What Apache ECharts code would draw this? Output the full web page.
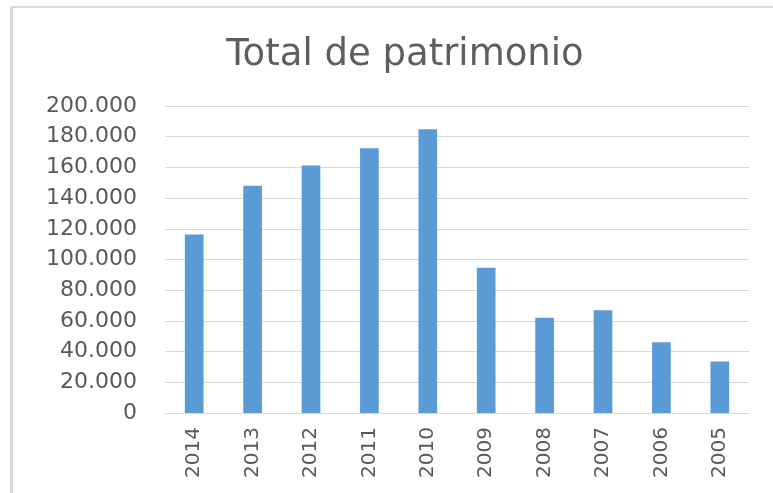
<!DOCTYPE html>
<html>
<head>
<meta charset="utf-8">
<script src="https://cdn.jsdelivr.net/npm/echarts@6/dist/echarts.min.js"></script>
<style>
html,body{margin:0;padding:0;background:#fff;}
#chart{width:773px;height:493px;}
</style>
</head>
<body>
<div id="chart"></div>
<script>
const title = 'Total de patrimonio';
const categories = ['2014','2013','2012','2011','2010','2009','2008','2007','2006','2005'];
const values = [116300, 148000, 161300, 172400, 184800, 94600, 62000, 67000, 46100, 33500];
const yTicks = { min: 0, max: 200000, interval: 20000 };

function fmt(v) {
  if (v === 0) return '0';
  const s = String(Math.round(v));
  return s.replace(/\B(?=(\d{3})+(?!\d))/g, '.');
}

const chart = echarts.init(document.getElementById('chart'), null, { renderer: 'canvas' });
chart.setOption({
  animation: false,
  backgroundColor: '#ffffff',
  title: {
    text: title,
    left: 400,
    top: 32,
    textAlign: 'center',
    textStyle: { fontFamily: 'DejaVu Sans', fontSize: 37, fontWeight: 'normal', color: '#5e5e5e' }
  },
  graphic: [
    { type: 'line', shape: { x1: 10, y1: 7, x2: 773, y2: 7 }, style: { stroke: '#d9d9d9', lineWidth: 2 } },
    { type: 'line', shape: { x1: 11.5, y1: 6, x2: 11.5, y2: 493 }, style: { stroke: '#d9d9d9', lineWidth: 3 } }
  ],
  grid: { left: 165, right: 24, top: 106, bottom: 80, containLabel: false },
  xAxis: {
    type: 'category',
    data: categories,
    axisLine: { show: true, lineStyle: { color: '#d9d9d9', width: 1 } },
    axisTick: { show: false },
    axisLabel: { rotate: 90, margin: 14, fontFamily: 'DejaVu Sans', fontSize: 20, color: '#595959' }
  },
  yAxis: {
    type: 'value',
    min: yTicks.min, max: yTicks.max, interval: yTicks.interval,
    axisLine: { show: false },
    axisTick: { show: false },
    splitLine: { lineStyle: { color: '#d9d9d9', width: 1 } },
    axisLabel: { margin: 28, fontFamily: 'DejaVu Sans', fontSize: 22, color: '#595959', formatter: fmt }
  },
  series: [{
    type: 'bar',
    data: values,
    barWidth: '32%',
    itemStyle: { color: '#5b9bd5' }
  }]
});
</script>
</body>
</html>
